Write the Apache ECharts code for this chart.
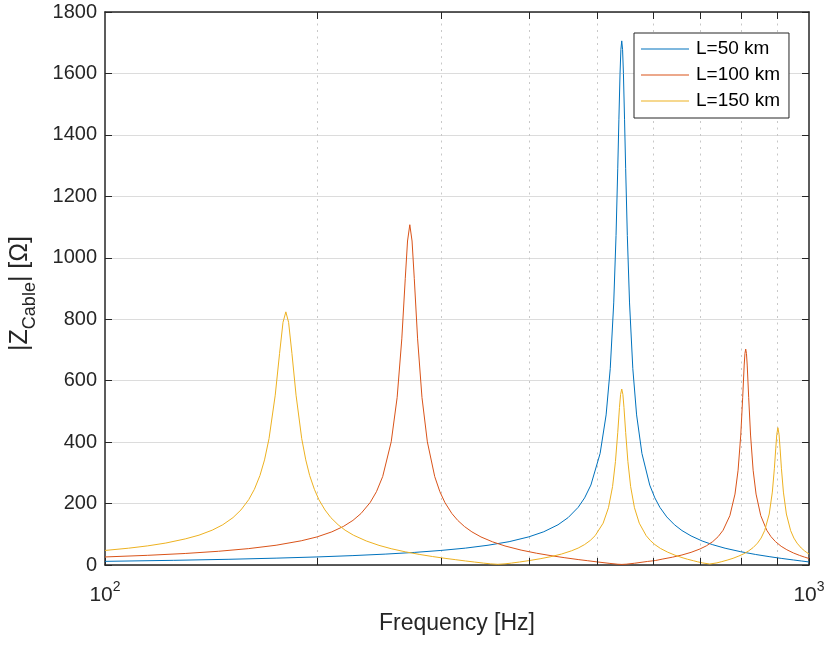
<!DOCTYPE html>
<html>
<head>
<meta charset="utf-8">
<script src="https://cdn.jsdelivr.net/npm/echarts@6/dist/echarts.min.js"></script>
<style>
html,body{margin:0;padding:0;background:#fff;}
#chart{width:829px;height:645px;}
</style>
</head>
<body>
<div id="chart"></div>
<script>
// ---- data ----
var seriesNames = ['L=50 km', 'L=100 km', 'L=150 km'];

var freq50 = [100,125,150,175,200,225,250,275,300,325,350,375,400,420,440,455,470,480,490,505,515,522,528,532,535,537,539,540.5,542,543.5,545,547,549,552,556,562,569,579,594,604,614,628,644,660,680,705,730,760,800,840,880,915,950,975,1000];
var z50 = [11.9,15.2,18.6,22.3,26.2,30.6,35.4,40.9,47.4,54.9,64.3,75.9,91.6,108.2,130.9,154.6,187.7,218.4,260.3,363.1,488.6,639.1,853.1,1072.7,1291.6,1451,1599.6,1677.5,1706,1677.5,1599.6,1451,1290,1072.7,853,639,488.6,363,260,218.4,187.7,156.5,131,112.1,94.6,78.2,66.0,54.6,43.2,34.2,26.9,21.3,16.4,13.1,9.9];

var freq100 = [100,115,130,145,160,175,190,200,210,218,225,231,238,243,248,255,260,264,267,269,271,273,275,278,282,287,294,299,304,311,317,324,332,342,355,370,390,410,430,450,470,485,500,520,535,542,550,565,590,605,620,640,660,680,700,715,730,743,755,772,785,793,800,805,809,811,813,815,817,821,826,833,841,854,871,883,896,913,930,950,970,985,1000];
var z100 = [26.2,31.5,37.5,44.7,53.4,64.3,78.8,91.3,107.9,125.3,145.2,167.5,203.1,238.6,288.0,401.0,545.3,736.1,932.0,1054.6,1107.6,1054.6,932.0,736.1,545.3,401.0,288.0,238.6,203.1,167.5,145.2,125.3,107.9,91.3,75.6,61.9,48.5,38.4,30.4,23.6,17.7,13.9,10.1,5.46,2.48,1.87,2.64,5.68,11.6,14.5,19.5,25.5,32.6,41.2,52.1,62.5,76.2,92.4,113.1,160.8,230.8,308.5,423.0,544.7,650.8,688.6,702.8,688.6,650.8,544.7,423.0,308.5,230.8,160.8,113.1,92.4,76.2,60.9,49.7,39.3,31.1,25.9,21.2];

var freq150 = [100,108,115,122,130,136,142,147,152,156,160,163,166,168.5,171,174.5,177,179,180.67,182.3,184.3,186.8,190.3,192.84,195.3,198.34,201.3,205.34,209.3,214.34,219.3,225.34,235,245,255,267,280,292,305,315,325,335,345,353,361.3,370,378,388,400,415,430,445,460,470,480,489,497,510,519,526,531,535,538,540,542,544,546,549,553,558,565,574,587,595,604,615,630,645,660,672,685,695,705,722.7,740,752,765,780,795,808,820,833,845,855,865,878,887,893,897,900,903.3,906.7,909.7,913.7,919.7,928.7,941.7,951.7,961.7,975,986,993,1000];
var z150 = [47.4,54.7,62.3,71.5,84.9,97.1,113.4,131.0,154.3,179.2,212.6,246.3,291.4,342.1,411.3,552.7,688.7,789.8,824,789.8,688.7,552.7,411.3,342.1,291.4,246.3,212.6,179.2,154.3,131.0,113.4,97.1,78.3,63.9,53.0,42.9,34.2,27.5,21.3,17.2,13.2,9.58,6.14,3.68,2.22,3.81,6.28,9.74,14.2,20.3,27.2,35.6,46.3,55.1,66.5,79.9,95.8,136.1,186.6,255.5,337.0,431.6,512.7,555.5,572.8,555.5,512.7,431.6,337.0,255.5,186.6,136.1,95.8,79.9,66.5,54.1,41.7,32.0,24.2,18.8,14.0,10.3,6.99,3.2,6.93,11.0,15.8,21.8,29.2,36.6,45.1,56.7,71.2,87.7,111.9,165.9,237.3,315.0,380.5,425.1,446.8,425.1,380.5,315.0,237.3,165.9,111.9,87.7,71.2,55.2,45.6,40.5,35.8];

var minorFreqs = [200,300,400,500,600,700,800,900];
var yMin = 0, yMax = 1800, yStep = 200;
var xMin = 100, xMax = 1000;

// ---- chart ----
var FONT = 'Liberation Sans, Arial, Helvetica, sans-serif';
var AX = '#262626';
var colors = ['#0072BD', '#D95319', '#EDB120'];

function pairs(xs, ys) { return xs.map(function (x, i) { return [x, ys[i]]; }); }

var plotH = 645 - 12 - 80;
var tickVal = (yMax - yMin) * 7 / plotH;

var gridMarks = minorFreqs.map(function (f) { return { xAxis: f }; });
var tickMarksBottom = minorFreqs.map(function (f) {
  return [{ coord: [f, yMin] }, { coord: [f, yMin + tickVal] }];
});
var tickMarksTop = minorFreqs.map(function (f) {
  return [{ coord: [f, yMax - tickVal] }, { coord: [f, yMax] }];
});

var chart = echarts.init(document.getElementById('chart'), null, { renderer: 'canvas' });

function lineSeries(name, xs, ys, c) {
  return {
    name: name, type: 'line', data: pairs(xs, ys),
    symbol: 'none', showSymbol: false, smooth: false,
    lineStyle: { color: c, width: 1 }, itemStyle: { color: c },
    clip: true, z: 3
  };
}

// thin horizontal line icon (degenerate corner points fix the bounding box)
var LINE_ICON = 'path://M0,0L0.01,0L0.01,0.01ZM0,6.5L48,6.5L48,7.6L0,7.6ZM48,14L47.99,14L47.99,13.99Z';

var option = {
  animation: false,
  backgroundColor: '#ffffff',
  textStyle: { fontFamily: FONT },
  grid: { left: 105, right: 20, top: 12, bottom: 80, containLabel: false },
  legend: {
    data: seriesNames.map(function (n) { return { name: n, icon: LINE_ICON }; }),
    orient: 'vertical',
    left: 634, top: 33,
    padding: [5, 9, 6, 7],
    itemGap: 4,
    itemWidth: 48, itemHeight: 14,
    borderColor: AX, borderWidth: 1,
    backgroundColor: '#ffffff',
    textStyle: { fontSize: 19, color: '#000', fontFamily: FONT, lineHeight: 22, padding: [0, 0, 0, 2] },
    selectedMode: false
  },
  xAxis: [{
    type: 'log', logBase: 10, min: xMin, max: xMax,
    position: 'bottom',
    name: 'Frequency [Hz]', nameLocation: 'middle', nameGap: 47,
    nameTextStyle: { fontSize: 23, color: AX, fontFamily: FONT },
    axisLine: { show: true, onZero: false, lineStyle: { color: AX, width: 1.5 } },
    axisTick: { show: true, inside: true, length: 7, lineStyle: { color: AX, width: 1 } },
    splitLine: { show: false },
    minorTick: { show: false },
    axisLabel: {
      margin: 15, color: AX, fontFamily: FONT,
      formatter: function (v) { return '{b|10}{s|' + Math.round(Math.log10(v)) + '}'; },
      rich: {
        b: { fontSize: 21, lineHeight: 26, verticalAlign: 'bottom', color: AX, fontFamily: FONT },
        s: { fontSize: 14, lineHeight: 14, verticalAlign: 'top', color: AX, fontFamily: FONT }
      }
    }
  }, {
    type: 'log', logBase: 10, min: xMin, max: xMax,
    position: 'top',
    axisLine: { show: true, onZero: false, lineStyle: { color: AX, width: 1.5 } },
    axisTick: { show: false }, axisLabel: { show: false }, splitLine: { show: false }
  }],
  yAxis: [{
    type: 'value', min: yMin, max: yMax, interval: yStep,
    position: 'left',
    name: '|Z{sub|Cable}| [Ω]', nameLocation: 'middle', nameGap: 72, nameRotate: 90,
    nameTextStyle: {
      fontSize: 25, color: AX, fontFamily: FONT, padding: [0, 10, 0, 0],
      rich: { sub: { fontSize: 18, color: AX, fontFamily: FONT, verticalAlign: 'bottom', padding: [0, 0, -6, 0] } }
    },
    axisLine: { show: true, lineStyle: { color: AX, width: 1.5 } },
    axisTick: { show: true, inside: true, length: 7, lineStyle: { color: AX, width: 1 } },
    axisLabel: { fontSize: 20, color: AX, margin: 8, fontFamily: FONT, formatter: function (v) { return String(v); } },
    splitLine: { show: true, lineStyle: { color: '#dcdcdc', width: 1 } }
  }, {
    type: 'value', min: yMin, max: yMax, interval: yStep,
    position: 'right',
    axisLine: { show: true, lineStyle: { color: AX, width: 1.5 } },
    axisTick: { show: true, inside: true, length: 7, lineStyle: { color: AX, width: 1 } },
    axisLabel: { show: false },
    splitLine: { show: false }
  }],
  series: [
    {
      name: 'minor-grid', type: 'line', data: [[xMin, yMin]],
      symbol: 'none', lineStyle: { opacity: 0 }, silent: true, z: 1,
      markLine: {
        silent: true, symbol: ['none', 'none'], z: 1, animation: false,
        label: { show: false },
        lineStyle: { color: '#c8c8c8', width: 1, type: [2, 4.5] },
        data: gridMarks
      }
    },
    {
      name: 'minor-ticks', type: 'line', data: [[xMin, yMin]],
      symbol: 'none', lineStyle: { opacity: 0 }, silent: true, z: 4,
      markLine: {
        silent: true, symbol: ['none', 'none'], z: 4, animation: false,
        label: { show: false },
        lineStyle: { color: AX, width: 1, type: 'solid' },
        data: tickMarksBottom.concat(tickMarksTop)
      }
    },
    lineSeries(seriesNames[0], freq50, z50, colors[0]),
    lineSeries(seriesNames[1], freq100, z100, colors[1]),
    lineSeries(seriesNames[2], freq150, z150, colors[2])
  ]
};
chart.setOption(option);
</script>
</body>
</html>
